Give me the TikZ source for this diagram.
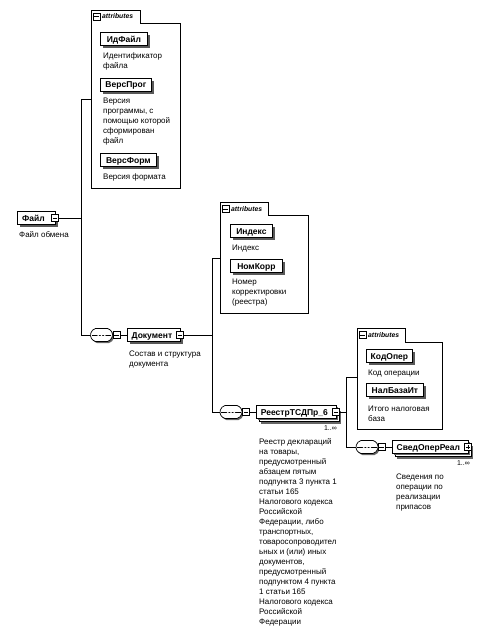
\documentclass[tikz,border=0pt]{standalone}
\usepackage{fontspec}
\setmainfont{Liberation Sans}
\usetikzlibrary{shadows,shapes.misc}
\begin{document}
\begin{tikzpicture}[x=1pt,y=-1pt,
  conn/.style={line width=0.7pt},
  grp/.style={line width=0.6pt},
  ebase/.style={draw, fill=white, line width=0.8pt, inner sep=0pt, minimum height=13pt,
    font=\bfseries\fontsize{8.5}{10}\selectfont, text height=6.1pt, text depth=0pt},
  elem/.style={ebase, drop shadow={shadow xshift=2.5pt, shadow yshift=-2.5pt, fill=black!65, opacity=1}},
  multi/.style={ebase,
    general shadow={shadow xshift=5pt, shadow yshift=-5pt, fill=black!60},
    general shadow={shadow xshift=3pt, shadow yshift=-3pt, draw=black, fill=white, line width=0.7pt},
    drop shadow={shadow xshift=1.5pt, shadow yshift=-1.5pt, fill=black!60, opacity=1}},
  minus/.style={draw, fill=white, minimum size=7pt, inner sep=0pt, line width=0.5pt,
    path picture={\draw[line width=0.5pt] ([xshift=1.3pt]path picture bounding box.west) -- ([xshift=-1.3pt]path picture bounding box.east);}},
  plus/.style={minus,
    path picture={\draw[line width=0.5pt] ([xshift=1.3pt]path picture bounding box.west) -- ([xshift=-1.3pt]path picture bounding box.east);
      \draw[line width=0.5pt] ([yshift=-1.3pt]path picture bounding box.north) -- ([yshift=1.3pt]path picture bounding box.south);}},
  seq/.style={rounded rectangle, rounded rectangle arc length=150,
    draw, fill=white, line width=0.7pt,
    minimum width=22pt, minimum height=13pt, inner sep=0pt,
    drop shadow={shadow xshift=1.5pt, shadow yshift=-1.5pt, fill=black!60, opacity=1},
    path picture={\draw[line width=0.6pt] ([xshift=2pt]path picture bounding box.west) -- ([xshift=-2pt]path picture bounding box.east);
      \foreach \dx in {-3.2,0,3.2} \fill ([xshift=\dx pt]path picture bounding box.center) circle (1.1pt);}},
  desc/.style={font=\fontsize{8}{10}\selectfont, align=left, inner sep=0pt, anchor=north west, text=black},
  tabtxt/.style={font=\bfseries\itshape\fontsize{6.8}{8}\selectfont, inner sep=0pt, anchor=west},
  occ/.style={font=\fontsize{7}{8}\selectfont, inner sep=0pt, anchor=east}
]
\useasboundingbox (0,0) rectangle (492,634);

% ---------- attribute groups ----------
\draw[grp] (91,188) -- (91,10) -- (140,10) -- (140,23) -- (180,23) -- (180,188) -- cycle;
\node[minus] (t1) at (96.5,16.5) {};
\node[tabtxt] (t1t) at (102,16.5) {attributes};
\coordinate (att1) at (91,99);

\draw[grp] (220,313) -- (220,202) -- (268,202) -- (268,215) -- (308,215) -- (308,313) -- cycle;
\node[minus] (t2) at (225.5,209) {};
\node[tabtxt] (t2t) at (231,209) {attributes};
\coordinate (att2) at (220,258);

\draw[grp] (357,429) -- (357,328) -- (405,328) -- (405,342) -- (442,342) -- (442,429) -- cycle;
\node[minus] (t3) at (362.5,335) {};
\node[tabtxt] (t3t) at (368,335) {attributes};
\coordinate (att3) at (357,377);

% ---------- attributes ----------
\node[elem, minimum width=47pt, anchor=west] (idf) at (100,39) {ИдФайл};
\node[desc] (idfd) at (103,51) {\strut Идентификатор\\файла};
\node[elem, minimum width=51pt, anchor=west] (vp) at (100,84.5) {ВерсПрог};
\node[desc] (vpd) at (103,96) {\strut Версия\\программы, с\\помощью которой\\сформирован\\файл};
\node[elem, minimum width=56pt, anchor=west] (vf) at (100,160) {ВерсФорм};
\node[desc] (vfd) at (103,172) {\strut Версия формата};

\node[elem, minimum width=42pt, anchor=west] (ind) at (230,231) {Индекс};
\node[desc] (indd) at (232,243) {\strut Индекс};
\node[elem, minimum width=52pt, anchor=west] (nk) at (230,266) {НомКорр};
\node[desc] (nkd) at (232,277) {\strut Номер\\корректировки\\(реестра)};

\node[elem, minimum width=46pt, anchor=west] (ko) at (366,356) {КодОпер};
\node[desc] (kod) at (368,368) {\strut Код операции};
\node[elem, minimum width=57pt, anchor=west] (nb) at (366,390) {НалБазаИт};
\node[desc] (nbd) at (368,404) {\strut Итого налоговая\\база};

% ---------- elements ----------
\node[elem, minimum width=38pt, anchor=west] (fl) at (17,218) {\hspace*{-6pt}Файл};
\node[minus] (fli) at (55,218) {};
\node[desc] (fld) at (19,230) {\strut Файл обмена};

\node[seq] (sqD) at (101.5,335) {};
\node[minus] (sqDi) at (116.5,335) {};
\node[elem, minimum width=53pt, anchor=west] (dok) at (127,335) {\hspace*{-4pt}Документ};
\node[minus] (doki) at (180,335) {};
\node[desc] (dokd) at (129,349) {\strut Состав и структура\\документа};

\node[seq] (sqR) at (231,412) {};
\node[minus] (sqRi) at (246,412) {};
\node[multi, minimum width=80pt, anchor=west] (rs) at (256,412) {\hspace*{-4pt}РеестрТСДПр\_6};
\node[minus] (rsi) at (336,412) {};
\node[occ] (rso) at (337,428) {1..∞};
\node[desc] (rsd) at (259,437) {\strut Реестр деклараций\\на товары,\\предусмотренный\\абзацем пятым\\подпункта 3 пункта 1\\статьи 165\\Налогового кодекса\\Российской\\Федерации, либо\\транспортных,\\товаросопроводител\\ьных и (или) иных\\документов,\\предусмотренный\\подпунктом 4 пункта\\1 статьи 165\\Налогового кодекса\\Российской\\Федерации};

\node[seq] (sqS) at (367,447) {};
\node[minus] (sqSi) at (381.5,447) {};
\node[multi, minimum width=76pt, anchor=west] (sv) at (392,447) {\hspace*{-4pt}СведОперРеал};
\node[plus] (svi) at (468,447) {};
\node[occ] (svo) at (470,463) {1..∞};
\node[desc] (svd) at (396,472) {\strut Сведения по\\операции по\\реализации\\припасов};

% ---------- connectors ----------
\coordinate (b1) at (81,99);
\coordinate (b2) at (212,258);
\coordinate (b3) at (346,377);
\draw[conn] (fli.east) -- (fli.east -| b1);
\draw[conn] (att1) -- (b1) -- (b1 |- sqD.west) -- (sqD.west);
\draw[conn] (sqDi.east) -- (dok.west);
\draw[conn] (doki.east) -- (doki.east -| b2);
\draw[conn] (att2) -- (b2) -- (b2 |- sqR.west) -- (sqR.west);
\draw[conn] (sqRi.east) -- (rs.west);
\draw[conn] (rsi.east) -- (rsi.east -| b3);
\draw[conn] (att3) -- (b3) -- (b3 |- sqS.west) -- (sqS.west);
\draw[conn] (sqSi.east) -- (sv.west);
\end{tikzpicture}
\end{document}
